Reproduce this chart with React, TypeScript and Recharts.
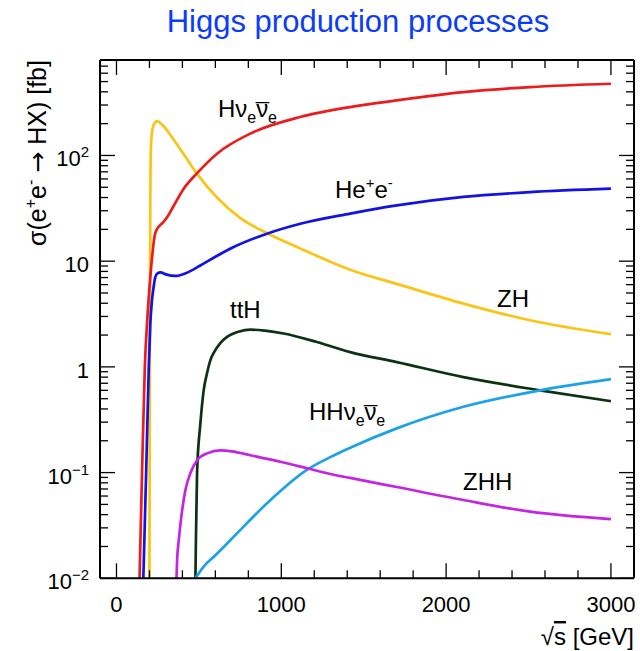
import React from 'react';
import { LineChart, Line, XAxis, YAxis } from 'recharts';

// ---------- data (sqrt(s) in GeV, cross-section in fb) ----------
const ZH_E = [200, 202, 204, 206, 209, 215, 224, 236, 250, 265, 285, 307, 350, 406, 489, 610, 752, 933, 1115, 1297, 1418, 1701, 2105, 2509, 3000];
const ZH_S = [0.01, 0.5, 10, 60, 120, 165, 192, 206, 211, 203, 190, 173, 139, 104, 67, 40, 25.5, 17.8, 13.2, 9.9, 8.3, 6.1, 3.97, 2.76, 2.04];

const HNN_E = [140, 155, 172, 188, 205, 220, 232, 245, 260, 280, 307, 350, 406, 489, 610, 812, 1115, 1418, 1701, 2105, 2509, 3000];
const HNN_S = [0.01, 0.1, 1, 3, 7, 12.5, 17.5, 20, 21.5, 23, 26, 34, 48, 68, 104, 161, 231, 287, 332, 397, 444, 477];

const HEE_E = [163, 180, 196, 205, 215, 226, 236, 250, 267, 300, 358, 420, 509, 600, 711, 913, 1115, 1418, 1701, 2105, 2509, 3000];
const HEE_S = [0.01, 0.1, 1, 2.5, 4.2, 5.8, 7.1, 7.7, 7.85, 7.5, 7.25, 7.7, 9.1, 11, 13.6, 18.2, 22.6, 28.2, 33.7, 40.5, 45, 48.5];

const TTH_E = [479, 482, 489, 509, 529, 550, 570, 590, 630, 671, 740, 812, 900, 1014, 1216, 1418, 1701, 2105, 2570, 3000];
const TTH_S = [0.01, 0.023, 0.1, 0.29, 0.6, 0.88, 1.16, 1.36, 1.68, 1.92, 2.15, 2.25, 2.2, 2.07, 1.72, 1.38, 1.11, 0.8, 0.6, 0.474];

const HHNN_E = [479, 529, 600, 711, 913, 1155, 1297, 1418, 1701, 2105, 2570, 3000];
const HHNN_S = [0.01, 0.0129, 0.0165, 0.0247, 0.0512, 0.106, 0.14, 0.172, 0.262, 0.419, 0.6, 0.766];

const ZHH_E = [364, 368, 378, 395, 418, 450, 489, 550, 630, 700, 812, 1000, 1155, 1297, 1418, 1701, 2105, 2509, 3000];
const ZHH_S = [0.01, 0.015, 0.023, 0.04, 0.068, 0.1, 0.131, 0.152, 0.162, 0.159, 0.146, 0.126, 0.11, 0.097, 0.089, 0.073, 0.055, 0.0427, 0.0363];

// ---------- axes ----------
const X_DOMAIN = [-100, 3140];
const Y_DOMAIN = [0.01, 800];
const X_TICKS = [0, 200, 400, 600, 800, 1000, 1200, 1400, 1600, 1800, 2000, 2200, 2400, 2600, 2800, 3000];
const X_MAJOR = [0, 1000, 2000, 3000];
const Y_TICKS = [
  0.01, 0.02, 0.03, 0.04, 0.05, 0.06, 0.07, 0.08, 0.09,
  0.1, 0.2, 0.3, 0.4, 0.5, 0.6, 0.7, 0.8, 0.9,
  1, 2, 3, 4, 5, 6, 7, 8, 9,
  10, 20, 30, 40, 50, 60, 70, 80, 90,
  100, 200, 300, 400, 500, 600, 700, 800,
];
const Y_MAJOR = [0.01, 0.1, 1, 10, 100];
const Y_LABEL_BASE = ['10', '10', '1', '10', '10'];
const Y_LABEL_EXP = ['\u22122', '\u22121', '', '', '2'];

const toPts = (e: number[], s: number[]) => e.map((x, i) => ({ x, y: s[i] }));

const FONT = '"Liberation Sans", Arial, Helvetica, sans-serif';
const MAJ = 15;
const MIN = 8;

const isMajorX = (v: number) => X_MAJOR.some((m) => Math.abs(m - v) < 1e-9);
const majorYIndex = (v: number) => Y_MAJOR.findIndex((m) => Math.abs(m - v) / m < 1e-6);

const XBottomTick = (props: any) => {
  const { x, y, payload } = props;
  const major = isMajorX(payload.value);
  return (
    <g>
      <line x1={x} y1={y} x2={x} y2={y - (major ? MAJ : MIN)} stroke="#000" strokeWidth={1.3} />
      {major && (
        <text x={x} y={y + 34} textAnchor="middle" fontSize={22} fontFamily={FONT} fill="#000">
          {payload.value}
        </text>
      )}
    </g>
  );
};

const XTopTick = (props: any) => {
  const { x, y, payload } = props;
  const major = isMajorX(payload.value);
  return <line x1={x} y1={y} x2={x} y2={y + (major ? MAJ : MIN)} stroke="#000" strokeWidth={1.3} />;
};

const YLeftTick = (props: any) => {
  const { x, y, payload } = props;
  const idx = majorYIndex(payload.value);
  const major = idx >= 0;
  return (
    <g>
      <line x1={x} y1={y} x2={x + (major ? MAJ : MIN)} y2={y} stroke="#000" strokeWidth={1.3} />
      {major && (
        <text x={x - 11} y={y + 11} textAnchor="end" fontSize={22} fontFamily={FONT} fill="#000">
          {Y_LABEL_EXP[idx] ? (
            <>
              <tspan>{Y_LABEL_BASE[idx]}</tspan>
              <tspan fontSize={15} dy={-9}>{Y_LABEL_EXP[idx]}</tspan>
            </>
          ) : (
            Y_LABEL_BASE[idx]
          )}
        </text>
      )}
    </g>
  );
};

const YRightTick = (props: any) => {
  const { x, y, payload } = props;
  const major = majorYIndex(payload.value) >= 0;
  return <line x1={x} y1={y} x2={x - (major ? MAJ : MIN)} y2={y} stroke="#000" strokeWidth={1.3} />;
};

const SERIES = [
  { name: 'ZH', color: '#fcc414', pts: toPts(ZH_E, ZH_S) },
  { name: 'Hnn', color: '#ec1c1c', pts: toPts(HNN_E, HNN_S) },
  { name: 'Hee', color: '#1212e4', pts: toPts(HEE_E, HEE_S) },
  { name: 'ttH', color: '#0c3212', pts: toPts(TTH_E, TTH_S) },
  { name: 'HHnn', color: '#1ca2ea', pts: toPts(HHNN_E, HHNN_S) },
  { name: 'ZHH', color: '#c424e4', pts: toPts(ZHH_E, ZHH_S) },
];

const lab = { fontFamily: FONT, fontSize: 24, fill: '#000' } as const;

// ν_e ν̄_e written with a macron placed over the second ν
const NuNuBar = () => (
  <>
    <tspan>ν</tspan>
    <tspan fontSize={16} dy={6}>e</tspan>
    <tspan dy={-6}>ν</tspan>
    <tspan dx={-12.6} dy={3}>¯</tspan>
    <tspan fontSize={16} dx={-1} dy={3}>e</tspan>
  </>
);

export default function App() {
  return (
    <div style={{ position: 'absolute', left: 0, top: 0, width: 640, height: 651, background: '#fff' }}>
      <LineChart width={640} height={651} margin={{ top: 59, right: 5, bottom: 71.7, left: 99 }}>
        <XAxis
          xAxisId={0}
          dataKey="x"
          type="number"
          domain={X_DOMAIN}
          allowDataOverflow
          ticks={X_TICKS}
          interval={0}
          height={1}
          tickSize={0}
          tickMargin={0}
          tick={<XBottomTick />}
          axisLine={{ stroke: '#000', strokeWidth: 2 }}
          tickLine={false}
        />
        <XAxis
          xAxisId="top"
          orientation="top"
          dataKey="x"
          type="number"
          domain={X_DOMAIN}
          allowDataOverflow
          ticks={X_TICKS}
          interval={0}
          height={1}
          tickSize={0}
          tickMargin={0}
          tick={<XTopTick />}
          axisLine={{ stroke: '#000', strokeWidth: 2 }}
          tickLine={false}
        />
        <YAxis
          yAxisId={0}
          type="number"
          scale="log"
          domain={Y_DOMAIN}
          allowDataOverflow
          ticks={Y_TICKS}
          interval={0}
          width={1}
          tickSize={0}
          tickMargin={0}
          tick={<YLeftTick />}
          axisLine={{ stroke: '#000', strokeWidth: 2 }}
          tickLine={false}
        />
        <YAxis
          yAxisId="right"
          orientation="right"
          type="number"
          scale="log"
          domain={Y_DOMAIN}
          allowDataOverflow
          ticks={Y_TICKS}
          interval={0}
          width={1}
          tickSize={0}
          tickMargin={0}
          tick={<YRightTick />}
          axisLine={{ stroke: '#000', strokeWidth: 2 }}
          tickLine={false}
        />
        {SERIES.map((s) => (
          <Line
            key={s.name}
            data={s.pts}
            dataKey="y"
            xAxisId={0}
            yAxisId={0}
            type="monotone"
            stroke={s.color}
            strokeWidth={2.7}
            dot={false}
            activeDot={false}
            isAnimationActive={false}
          />
        ))}
      </LineChart>
      <svg
        width={640}
        height={651}
        style={{ position: 'absolute', left: 0, top: 0, pointerEvents: 'none' }}
      >
        <text x={358} y={32} textAnchor="middle" fontFamily={FONT} fontSize={31} fill="#0b3cfa">
          Higgs production processes
        </text>
        <text
          x={46}
          y={153}
          textAnchor="middle"
          transform="rotate(-90 46 153)"
          fontFamily={FONT}
          fontSize={25}
          fill="#000"
        >
          <tspan>σ(e</tspan>
          <tspan fontSize={16} dy={-10}>+</tspan>
          <tspan dy={10}>e</tspan>
          <tspan fontSize={16} dy={-10}>-</tspan>
          <tspan dy={10}> </tspan>
          <tspan fontFamily='"DejaVu Sans", sans-serif'>→</tspan>
          <tspan> HX) [fb]</tspan>
        </text>
        <text x={634} y={645} textAnchor="end" fontFamily={FONT} fontSize={24} fill="#000">
          <tspan>√</tspan>
          <tspan style={{ textDecoration: 'overline' }}>s</tspan>
          <tspan> [GeV]</tspan>
        </text>

        <text x={218} y={117} {...lab}>
          <tspan>H</tspan>
          <NuNuBar />
        </text>
        <text x={335} y={198} {...lab}>
          <tspan>He</tspan>
          <tspan fontSize={15} dy={-10}>+</tspan>
          <tspan dy={10}>e</tspan>
          <tspan fontSize={15} dy={-10}>-</tspan>
        </text>
        <text x={497} y={307} {...lab}>ZH</text>
        <text x={230} y={318} {...lab}>ttH</text>
        <text x={309} y={420} {...lab}>
          <tspan>HH</tspan>
          <NuNuBar />
        </text>
        <text x={463} y={490} {...lab}>ZHH</text>
      </svg>
    </div>
  );
}
